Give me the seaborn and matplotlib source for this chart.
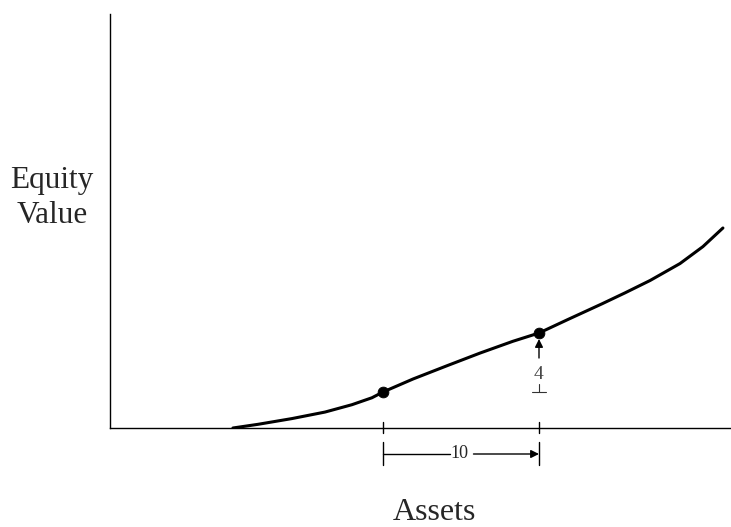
import matplotlib
matplotlib.use("Agg")
import matplotlib.pyplot as plt
import seaborn as sns
import pandas as pd

# Data (asset value units, equity value units)
assets = [7.88, 9.49, 11.67, 13.78, 15.51, 16.79, 17.5, 19.42, 21.60, 23.72, 25.83, 27.5,
          29.36, 31.54, 33.01, 34.62, 36.54, 38.01, 39.29]
equity = [0.0, 0.25, 0.64, 1.08, 1.58, 2.05, 2.44, 3.32, 4.22, 5.08, 5.88, 6.44,
          7.36, 8.42, 9.16, 10.0, 11.15, 12.3, 13.56]
point_assets = [17.5, 27.5]
point_equity = [2.44, 6.44]
delta_assets = 10
delta_equity = 4
xlabel = "Assets"
ylabel = "Equity\nValue"

sns.set_style("white")
plt.rcParams['font.family'] = ['Liberation Serif', 'DejaVu Serif']

fig = plt.figure(figsize=(7.31, 5.27), dpi=100)
W, H = 731, 527
ax = fig.add_axes([110 / W, (527 - 428) / H, (731 - 110) / W, (428 - 14) / H])

df = pd.DataFrame({"a": assets, "e": equity})
sns.lineplot(data=df, x="a", y="e", ax=ax, color="black", linewidth=2.2, sort=False,
             solid_joinstyle="round", solid_capstyle="round")
sns.scatterplot(x=point_assets, y=point_equity, ax=ax, color="black", s=60, zorder=5, edgecolor="black")

ax.set_xlim(0, (731 - 110) / 15.6)
ax.set_ylim(0, (428 - 14) / 14.75)
ax.set_xticks([])
ax.set_yticks([])
ax.set_xlabel("")
ax.set_ylabel("")
for s in ["top", "right"]:
    ax.spines[s].set_visible(False)
for s in ["left", "bottom"]:
    ax.spines[s].set_color("black")
    ax.spines[s].set_linewidth(1.0)

px = 1 / 14.75  # one pixel in y data units
x1, x2 = point_assets
# ticks crossing the x axis
for x in point_assets:
    ax.plot([x, x], [6 * px, -5 * px], color="black", lw=1.0, clip_on=False)
    ax.plot([x, x], [-14 * px, -37 * px], color="black", lw=1.0, clip_on=False)
# horizontal bracket with arrow
yb = -26 * px
ax.plot([x1, x1 + 4.3], [yb, yb], color="black", lw=1.0, clip_on=False)
ax.annotate("", xy=(x2, yb), xytext=(x1 + 5.8, yb),
            arrowprops=dict(arrowstyle="-|>", color="black", lw=1.0, mutation_scale=12,
                            shrinkA=0, shrinkB=0), annotation_clip=False)
ax.text((x1 + x2) / 2 - 0.1, yb, str(delta_assets), ha="center", va="center", fontsize=13)

# vertical arrow for delta equity
y1, y2 = point_equity
ax.annotate("", xy=(x2, y2 - 6 * px), xytext=(x2, y2 - 25 * px),
            arrowprops=dict(arrowstyle="-|>", color="black", lw=1.0, mutation_scale=12,
                            shrinkA=0, shrinkB=0))
ax.text(x2, y2 - 41 * px, str(delta_equity), ha="center", va="center", fontsize=14, color="#444444")
ax.plot([x2, x2], [y1, y1 + 8 * px], color="#333333", lw=0.8)
ax.plot([x2 - 0.42, x2 + 0.42], [y1, y1], color="#333333", lw=0.8)

fig.text(52 / W, 1 - 198 / H, ylabel, ha="center", va="center", fontsize=22.5, linespacing=1.3)
fig.text(434 / W, 1 - 512 / H, xlabel, ha="center", va="center", fontsize=23)

fig.savefig("out.png", dpi=100)
